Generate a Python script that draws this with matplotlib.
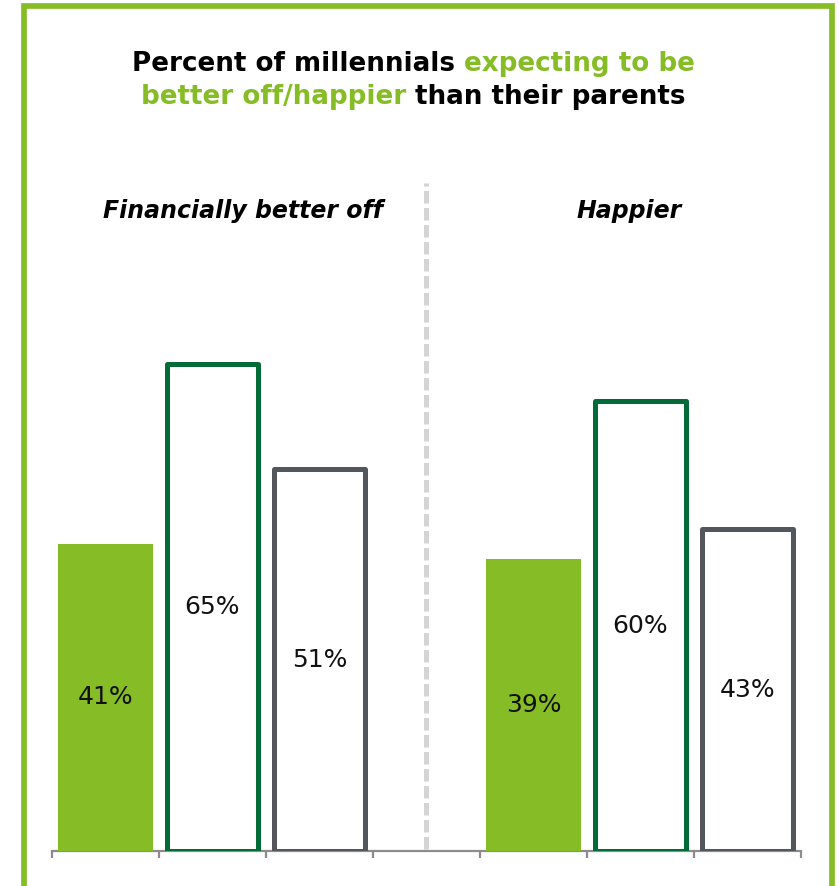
import matplotlib
matplotlib.use("Agg")
import matplotlib.pyplot as plt
from matplotlib.patches import Rectangle

# Survey results (% of millennials)
groups = ["Financially better off", "Happier"]
series_labels = ["Series A", "Series B", "Series C"]
financial = [41, 65, 51]
happier = [39, 60, 43]

GREEN = "#86BC25"
DARK_GREEN = "#046A38"
GRAY = "#53565A"
AXIS_GRAY = "#8C8C8C"
DIVIDER = "#D4D4D4"

W, H = 839, 886
fig = plt.figure(figsize=(W / 100, H / 100), dpi=100)
fig.patch.set_facecolor("white")


def fx(x):
    return x / W


def fy(y):
    return 1 - y / H


# plot area: 7 slots (3 bars, gap, 3 bars)
ax_left, ax_right = 52, 801
ax_base, ax_top = 851, 101
ax = fig.add_axes([fx(ax_left), 1 - ax_base / H, (ax_right - ax_left) / W, (ax_base - ax_top) / H])
ax.set_xlim(-0.5, 6.5)
ax.set_ylim(0, 100)

positions = [0, 1, 2, 4, 5, 6]
values = financial + happier
faces = [GREEN, "white", "white"] * 2
edges = [GREEN, DARK_GREEN, GRAY] * 2
lws = [0, 3.6, 3.6] * 2
widths = [0.88, 0.845, 0.845] * 2

for x, v, fc, ec, lw, w in zip(positions, values, faces, edges, lws, widths):
    b = ax.bar(x, v, width=w, color=fc, edgecolor=ec, linewidth=lw, zorder=3)
    for p in b:
        p.set_joinstyle("round")
    ax.text(x, v / 2, f"{v}%", ha="center", va="center", fontsize=18,
            color="#111111", zorder=4)

# axis line and category separators
for s in ["top", "right", "left"]:
    ax.spines[s].set_visible(False)
ax.spines["bottom"].set_color(AXIS_GRAY)
ax.spines["bottom"].set_linewidth(1.6)
ax.spines["bottom"].set_zorder(2)
ax.set_yticks([])
ax.set_xticks([i - 0.5 for i in range(8)])
ax.set_xticklabels([])
ax.tick_params(axis="x", length=5, width=1.6, color=AXIS_GRAY, direction="out")

# dashed divider between the two groups
ax.axvline(3, ymin=0.003, ymax=(ax_base - 183) / (ax_base - ax_top), color=DIVIDER,
           linewidth=3.6, linestyle=(0, (2.5, 0.9)), zorder=1)

# group headings
fig.text(fx(243), fy(211), groups[0], ha="center", va="center", fontsize=17,
         fontweight="bold", fontstyle="italic", color="black")
fig.text(fx(629), fy(211), groups[1], ha="center", va="center", fontsize=17,
         fontweight="bold", fontstyle="italic", color="black")

# two-colour title
renderer = fig.canvas.get_renderer()
TITLE_SIZE = 18.8


def text_width(s):
    t = fig.text(0, 0, s, fontsize=TITLE_SIZE, fontweight="bold")
    w = t.get_window_extent(renderer).width
    t.remove()
    return w


def title_line(parts, xc, y):
    full = "".join(p[0] for p in parts)
    total = text_width(full)
    x0 = xc - total / 2
    prefix = ""
    for s, c in parts:
        prefix += s
        start = x0 + text_width(prefix) - text_width(s.lstrip())
        fig.text(fx(start), fy(y), s.lstrip(), ha="left", va="center",
                 fontsize=TITLE_SIZE, fontweight="bold", color=c)


title_line([("Percent of millennials", "black"), (" expecting to be", GREEN)], 413, 64)
title_line([("better off/happier", GREEN), (" than their parents", "black")], 413, 97)

# frame around the whole graphic
fig.patches.append(Rectangle((fx(24), fy(888)), fx(831.5) - fx(24), fy(6) - fy(888),
                             transform=fig.transFigure, fill=False, edgecolor=GREEN,
                             linewidth=4.1, zorder=0))

fig.savefig("out.png", dpi=100, facecolor="white")
